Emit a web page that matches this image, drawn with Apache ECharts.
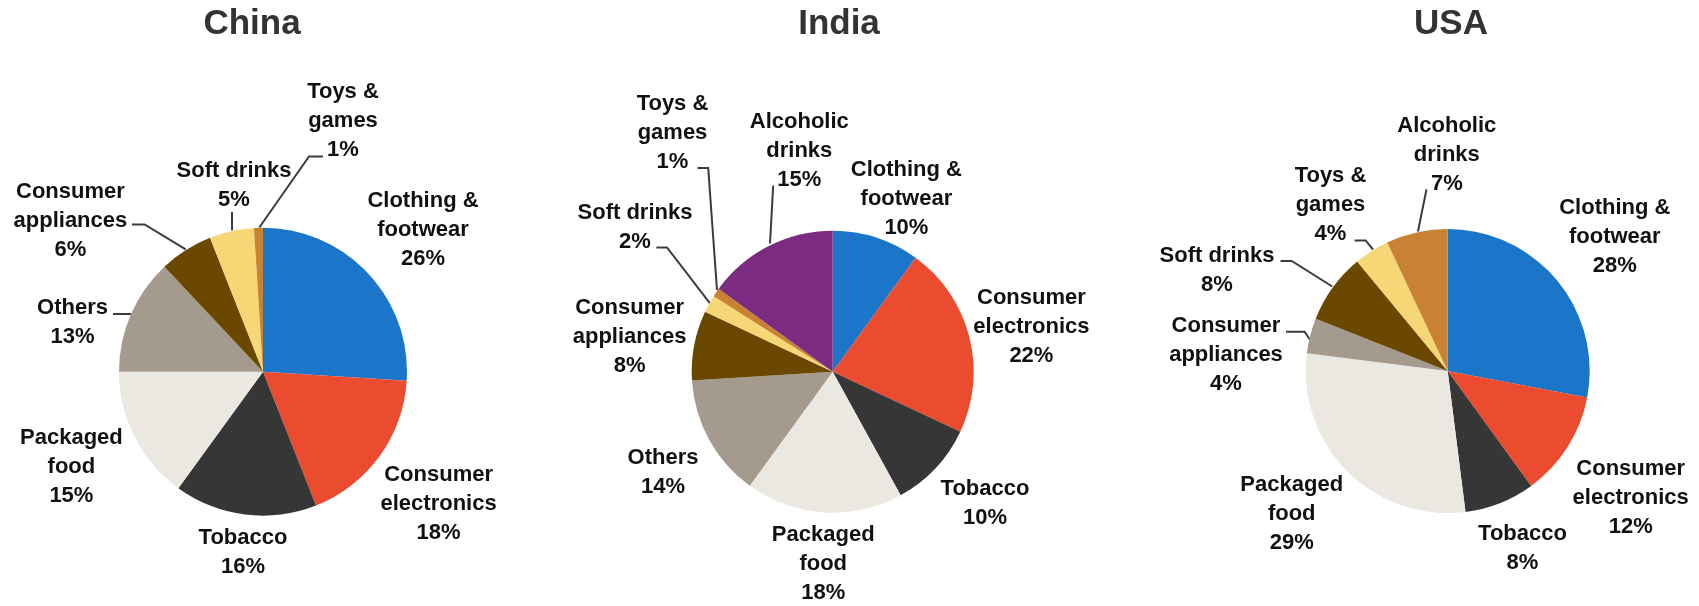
<!DOCTYPE html>
<html>
<head>
<meta charset="utf-8">
<script src="https://cdn.jsdelivr.net/npm/echarts@6/dist/echarts.min.js"></script>
<style>
  html, body { margin: 0; padding: 0; background: #ffffff; }
  #chart { width: 1699px; height: 606px; }
</style>
</head>
<body>
<div id="chart"></div>
<script>
// Market size by product category, share of total (%)
const countries = ['China', 'India', 'USA'];

const chinaCategories = ['Clothing & footwear', 'Consumer electronics', 'Tobacco', 'Packaged food',
  'Others', 'Consumer appliances', 'Soft drinks', 'Toys & games'];
const chinaValues = [26, 18, 16, 15, 13, 6, 5, 1];

const indiaCategories = ['Clothing & footwear', 'Consumer electronics', 'Tobacco', 'Packaged food',
  'Others', 'Consumer appliances', 'Soft drinks', 'Toys & games', 'Alcoholic drinks'];
const indiaValues = [10, 22, 10, 18, 14, 8, 2, 1, 15];

const usaCategories = ['Clothing & footwear', 'Consumer electronics', 'Tobacco', 'Packaged food',
  'Consumer appliances', 'Soft drinks', 'Toys & games', 'Alcoholic drinks'];
const usaValues = [28, 12, 8, 29, 4, 8, 4, 7];

// Wrapped label text for each category
const wrapped = {
  'Clothing & footwear': 'Clothing &\nfootwear',
  'Consumer electronics': 'Consumer\nelectronics',
  'Tobacco': 'Tobacco',
  'Packaged food': 'Packaged\nfood',
  'Others': 'Others',
  'Consumer appliances': 'Consumer\nappliances',
  'Soft drinks': 'Soft drinks',
  'Toys & games': 'Toys &\ngames',
  'Alcoholic drinks': 'Alcoholic\ndrinks'
};

// Slice colours, in slice order
const C = {
  blue: '#1b75c9', red: '#eb4c2f', dark: '#363636', light: '#ebe8e2', grey: '#a49b8e',
  brown: '#6b4800', yellow: '#f5d875', tan: '#c98233', purple: '#7b2b80'
};
const sliceColors = [
  [C.blue, C.red, C.dark, C.light, C.grey, C.brown, C.yellow, C.tan],
  [C.blue, C.red, C.dark, C.light, C.grey, C.brown, C.yellow, C.tan, C.purple],
  [C.blue, C.red, C.dark, C.light, C.grey, C.brown, C.yellow, C.tan]
];

// Pie placement
const pieGeom = [
  { center: [263, 371.7], radius: 144, titleX: 252 },
  { center: [832.7, 371.7], radius: 141, titleX: 839 },
  { center: [1447.7, 371], radius: 142, titleX: 1451 }
];

// Label anchor (block centre) and optional leader line for each slice
const labelSpots = [
  {
    'Clothing & footwear': { at: [423, 230] },
    'Consumer electronics': { at: [438.6, 504] },
    'Tobacco': { at: [243, 552] },
    'Packaged food': { at: [71.4, 467] },
    'Others': { at: [72.5, 322], line: [[131, 314], [122, 314], [113, 314]] },
    'Consumer appliances': { at: [70.4, 220.5], line: [[185.7, 249.3], [144.6, 224.5], [132, 224.5]] },
    'Soft drinks': { at: [234, 185.5], line: [[232, 230.5], [232, 221], [232, 212]] },
    'Toys & games': { at: [343, 121], line: [[259.3, 227.5], [309, 156.5], [323, 156.5]] }
  },
  {
    'Clothing & footwear': { at: [906.4, 199] },
    'Consumer electronics': { at: [1031.4, 326.6] },
    'Tobacco': { at: [985, 503.5] },
    'Packaged food': { at: [823.2, 564.4] },
    'Others': { at: [663, 472.5] },
    'Consumer appliances': { at: [629.6, 336.6] },
    'Soft drinks': { at: [635, 227.7], line: [[710, 303.4], [667, 247.4], [656.4, 247.4]] },
    'Toys & games': { at: [672.5, 133], line: [[717, 290], [708.2, 168], [697.5, 168]] },
    'Alcoholic drinks': { at: [799.3, 151], line: [[770, 243.5], [771.6, 214.5], [773.2, 185.5]] }
  },
  {
    'Clothing & footwear': { at: [1614.8, 237] },
    'Consumer electronics': { at: [1630.7, 497.7] },
    'Tobacco': { at: [1522.5, 548.5] },
    'Packaged food': { at: [1291.7, 514] },
    'Consumer appliances': { at: [1226, 355], line: [[1310.2, 340], [1304.6, 331.7], [1286, 331.7]] },
    'Soft drinks': { at: [1217, 270], line: [[1332.3, 286.5], [1291.7, 261], [1280.6, 261]] },
    'Toys & games': { at: [1330.5, 205], line: [[1373, 249.5], [1365.6, 240.4], [1354.5, 240.4]] },
    'Alcoholic drinks': { at: [1446.8, 155], line: [[1418, 231.5], [1422.2, 210.5], [1426.5, 189.4]] }
  }
];

const categoryLists = [chinaCategories, indiaCategories, usaCategories];
const valueLists = [chinaValues, indiaValues, usaValues];

const FONT = '"Liberation Sans", Arial, Helvetica, sans-serif';

const series = countries.map(function (country, si) {
  const cats = categoryLists[si];
  const vals = valueLists[si];
  return {
    type: 'pie',
    name: country,
    center: pieGeom[si].center,
    radius: [0, pieGeom[si].radius],
    startAngle: 90,
    clockwise: true,
    avoidLabelOverlap: false,
    animation: false,
    emphasis: { disabled: true },
    itemStyle: { borderWidth: 0 },
    label: {
      show: true,
      position: 'outside',
      fontFamily: FONT,
      fontSize: 22,
      fontWeight: 'bold',
      lineHeight: 29,
      color: '#111111',
      align: 'center',
      formatter: function (p) { return wrapped[p.name] + '\n' + p.value + '%'; }
    },
    labelLine: {
      show: true,
      smooth: false,
      lineStyle: { color: '#3c3c3c', width: 2 }
    },
    labelLayout: function (params) {
      const spot = labelSpots[si][cats[params.dataIndex]];
      const out = { x: spot.at[0], y: spot.at[1], align: 'center', verticalAlign: 'middle' };
      if (spot.line) out.labelLinePoints = spot.line;
      return out;
    },
    data: cats.map(function (name, i) {
      const spot = labelSpots[si][name];
      return {
        name: name,
        value: vals[i],
        itemStyle: { color: sliceColors[si][i] },
        labelLine: { show: !!spot.line }
      };
    })
  };
});

const chart = echarts.init(document.getElementById('chart'), null, { renderer: 'canvas' });
chart.setOption({
  backgroundColor: '#ffffff',
  title: countries.map(function (country, si) {
    return {
      text: country,
      left: pieGeom[si].titleX,
      top: 24,
      padding: 0,
      textAlign: 'center',
      textVerticalAlign: 'middle',
      textStyle: { fontFamily: FONT, fontSize: 35, fontWeight: 'bold', color: '#333333' }
    };
  }),
  series: series
});
</script>
</body>
</html>
